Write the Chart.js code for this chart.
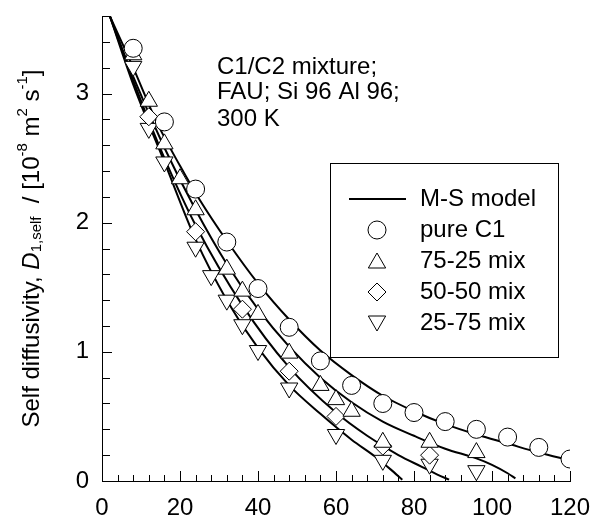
<!DOCTYPE html>
<html><head><meta charset="utf-8">
<script src="https://cdn.jsdelivr.net/npm/chart.js@4.4.1/dist/chart.umd.min.js"></script>
<style>html,body{margin:0;padding:0;background:#fff}#wrap{width:596px;height:520px;position:relative}</style>
</head><body><div id="wrap"><canvas id="c" width="596" height="520"></canvas></div>
<script>
const FONT = "'Liberation Sans', Arial, Helvetica, sans-serif";

// Axis ticks
const xTicks = [0, 20, 40, 60, 80, 100, 120];
const yTicks = [0, 1, 2, 3];

// M-S model curves
const msC1X = [2, 8, 14, 20, 25, 32, 40, 48, 56, 64, 72, 80, 88, 96, 104, 112, 120];
const msC1Y = [3.6, 3.2, 2.78, 2.44, 2.18, 1.86, 1.53, 1.25, 1.01, 0.82, 0.66, 0.54, 0.44, 0.36, 0.29, 0.22, 0.16];
const ms7525X = [2, 8, 16, 24, 32, 40, 48, 56, 64, 72, 80, 88, 96, 100, 104, 106];
const ms7525Y = [3.6, 3.13, 2.58, 2.1, 1.68, 1.33, 1.04, 0.8, 0.61, 0.46, 0.35, 0.25, 0.175, 0.125, 0.06, 0.02];
const ms5050X = [2, 8, 16, 24, 36, 48, 60, 68, 76, 82, 86, 89];
const ms5050Y = [3.6, 3.1, 2.5, 1.98, 1.36, 0.88, 0.53, 0.35, 0.2, 0.11, 0.05, 0.01];
const ms2575X = [2, 8, 16, 24, 32, 40, 48, 56, 64, 70, 74, 77];
const ms2575Y = [3.6, 3.07, 2.47, 1.87, 1.4, 1.03, 0.74, 0.52, 0.32, 0.19, 0.09, 0.01];

// Simulation data
const pureC1X = [8, 16, 24, 32, 40, 48, 56, 64, 72, 80, 88, 96, 104, 112, 120];
const pureC1Y = [3.35, 2.78, 2.26, 1.85, 1.49, 1.19, 0.93, 0.74, 0.60, 0.53, 0.46, 0.40, 0.34, 0.26, 0.17];
const mix7525X = [8, 12, 16, 20, 24, 32, 36, 40, 48, 56, 60, 64, 72, 84, 96];
const mix7525Y = [3.30, 2.94, 2.61, 2.34, 2.10, 1.64, 1.47, 1.29, 0.99, 0.74, 0.63, 0.54, 0.30, 0.30, 0.22];
const mix5050X = [12, 24, 36, 48, 60, 72, 84];
const mix5050Y = [2.82, 1.93, 1.33, 0.85, 0.50, 0.27, 0.20];
const mix2575X = [8, 12, 16, 24, 28, 32, 36, 40, 48, 60, 72, 84, 96];
const mix2575Y = [3.21, 2.73, 2.47, 1.81, 1.59, 1.40, 1.21, 1.01, 0.72, 0.36, 0.16, 0.13, 0.08];

const legendLabels = ['M-S model', 'pure C1', '75-25 mix', '50-50 mix', '25-75 mix'];
const noteLines = ['C1/C2 mixture;', 'FAU; Si 96 Al 96;', '300 K'];

function pts(xs, ys) { return xs.map((x, i) => ({ x: x, y: ys[i] })); }

function curve(xs, ys) {
  return { data: pts(xs, ys), showLine: true, pointRadius: 0, pointHoverRadius: 0,
    borderColor: '#000', borderWidth: 2, cubicInterpolationMode: 'monotone', fill: false, order: 2 };
}
function marks(xs, ys, style, r, rot) {
  return { data: pts(xs, ys), showLine: false, pointStyle: style, pointRadius: r, pointHoverRadius: r,
    pointRotation: rot || 0, pointBackgroundColor: '#fff', pointBorderColor: '#000', pointBorderWidth: 1,
    pointHoverBorderWidth: 1, order: 1 };
}

function drawMarker(ctx, style, x, y, r, rot) {
  ctx.save();
  ctx.translate(x, y);
  ctx.rotate((rot || 0) * Math.PI / 180);
  ctx.beginPath();
  if (style === 'circle') {
    ctx.arc(0, 0, r, 0, Math.PI * 2);
  } else if (style === 'triangle') {
    for (let k = 0; k < 3; k++) {
      const a = -Math.PI / 2 + k * 2 * Math.PI / 3;
      const px = Math.cos(a) * r, py = Math.sin(a) * r;
      if (k === 0) ctx.moveTo(px, py); else ctx.lineTo(px, py);
    }
    ctx.closePath();
  } else if (style === 'rectRot') {
    ctx.moveTo(0, -r); ctx.lineTo(r, 0); ctx.lineTo(0, r); ctx.lineTo(-r, 0); ctx.closePath();
  }
  ctx.fillStyle = '#fff'; ctx.fill();
  ctx.lineWidth = 1; ctx.strokeStyle = '#000'; ctx.stroke();
  ctx.restore();
}

const inwardTicks = {
  id: 'inwardTicks',
  beforeDatasetsDraw(chart) {
    const ctx = chart.ctx, xs = chart.scales.x, ys = chart.scales.y, a = chart.chartArea;
    ctx.save();
    ctx.strokeStyle = '#000'; ctx.lineWidth = 1;
    ctx.beginPath();
    for (let v = xs.min; v <= xs.max + 1e-9; v += 4) {
      const px = Math.round(xs.getPixelForValue(v)) + 0.5;
      const len = (Math.abs(v % 20) < 1e-9) ? 10 : 6;
      ctx.moveTo(px, a.bottom); ctx.lineTo(px, a.bottom - len);
    }
    for (let k = 0; k <= 18; k++) {
      const v = k * 0.2;
      const py = Math.round(ys.getPixelForValue(v)) + 0.5;
      const len = (k % 5 === 0) ? 10 : 8;
      ctx.moveTo(a.left, py); ctx.lineTo(a.left + len, py);
    }
    ctx.stroke();
    ctx.restore();
  }
};

const decorations = {
  id: 'decorations',
  afterDraw(chart) {
    const ctx = chart.ctx, a = chart.chartArea;
    ctx.save();
    ctx.fillStyle = '#000';
    // Note text
    ctx.font = '24px ' + FONT;
    ctx.textAlign = 'left'; ctx.textBaseline = 'middle';
    const noteY = [67, 92, 119];
    noteLines.forEach((t, i) => ctx.fillText(t, 217, noteY[i]));

    // Legend box
    ctx.lineWidth = 1; ctx.strokeStyle = '#000';
    ctx.strokeRect(330.5, 163.5, 228, 194);
    const rowY = [199, 230, 261, 292, 323];
    ctx.beginPath(); ctx.lineWidth = 2;
    ctx.moveTo(349, rowY[0]); ctx.lineTo(406, rowY[0]); ctx.stroke();
    drawMarker(ctx, 'circle', 377, rowY[1], 9, 0);
    drawMarker(ctx, 'triangle', 377, rowY[2] + 2, 10, 0);
    drawMarker(ctx, 'rectRot', 377, rowY[3], 9, 0);
    drawMarker(ctx, 'triangle', 377, rowY[4] - 2, 10, 180);
    ctx.fillStyle = '#000';
    ctx.font = '24px ' + FONT;
    ctx.textAlign = 'left'; ctx.textBaseline = 'middle';
    legendLabels.forEach((t, i) => ctx.fillText(t, 420, rowY[i]));

    // Y axis title with rich text
    const segs = [
      { t: 'Self diffusivity, ', f: '24px ' + FONT, dy: 0 },
      { t: 'D', f: 'italic 24px ' + FONT, dy: 0 },
      { t: '1,self', f: '15px ' + FONT, dy: 5 },
      { t: '  / [10', f: '24px ' + FONT, dy: 0 },
      { t: '-8', f: '15px ' + FONT, dy: -9 },
      { t: ' m', f: '24px ' + FONT, dy: 0 },
      { t: '2', f: '15px ' + FONT, dy: -9 },
      { t: ' s', f: '24px ' + FONT, dy: 0 },
      { t: '-1', f: '15px ' + FONT, dy: -9 },
      { t: ']', f: '24px ' + FONT, dy: 0 }
    ];
    let total = 0;
    segs.forEach(s => { ctx.font = s.f; s.w = ctx.measureText(s.t).width; total += s.w; });
    ctx.translate(32, (a.top + a.bottom) / 2);
    ctx.rotate(-Math.PI / 2);
    ctx.textAlign = 'left'; ctx.textBaseline = 'middle';
    let x = -total / 2;
    segs.forEach(s => { ctx.font = s.f; ctx.fillText(s.t, x, s.dy); x += s.w; });
    ctx.restore();
  }
};

new Chart(document.getElementById('c'), {
  type: 'scatter',
  data: {
    datasets: [
      curve(msC1X, msC1Y), curve(ms7525X, ms7525Y), curve(ms5050X, ms5050Y), curve(ms2575X, ms2575Y),
      marks(pureC1X, pureC1Y, 'circle', 9),
      marks(mix7525X, mix7525Y, 'triangle', 10),
      marks(mix5050X, mix5050Y, 'rectRot', 9),
      marks(mix2575X, mix2575Y, 'triangle', 10, 180)
    ]
  },
  options: {
    responsive: false, animation: false, devicePixelRatio: 1,
    events: [],
    layout: { padding: { top: 16, right: 26, left: 0, bottom: 0 } },
    plugins: { legend: { display: false }, tooltip: { enabled: false }, title: { display: false } },
    scales: {
      x: {
        type: 'linear', min: 0, max: 120,
        afterFit(s) { s.height = 39; s.paddingLeft = 0; s.paddingRight = 0; },
        afterBuildTicks(s) { s.ticks = xTicks.map(v => ({ value: v })); },
        grid: { display: false, drawTicks: false },
        border: { display: true, color: '#000', width: 1 },
        ticks: { color: '#000', font: { family: FONT, size: 24 }, padding: 13, maxRotation: 0, autoSkip: false }
      },
      y: {
        type: 'linear', min: 0, max: 3.6,
        afterFit(s) { s.width = 102; s.paddingTop = 0; s.paddingBottom = 0; },
        afterBuildTicks(s) { s.ticks = yTicks.map(v => ({ value: v })); },
        grid: { display: false, drawTicks: false },
        border: { display: true, color: '#000', width: 1 },
        ticks: { color: '#000', font: { family: FONT, size: 24 }, padding: 13, autoSkip: false }
      }
    }
  },
  plugins: [inwardTicks, decorations]
});
</script>
</body></html>
